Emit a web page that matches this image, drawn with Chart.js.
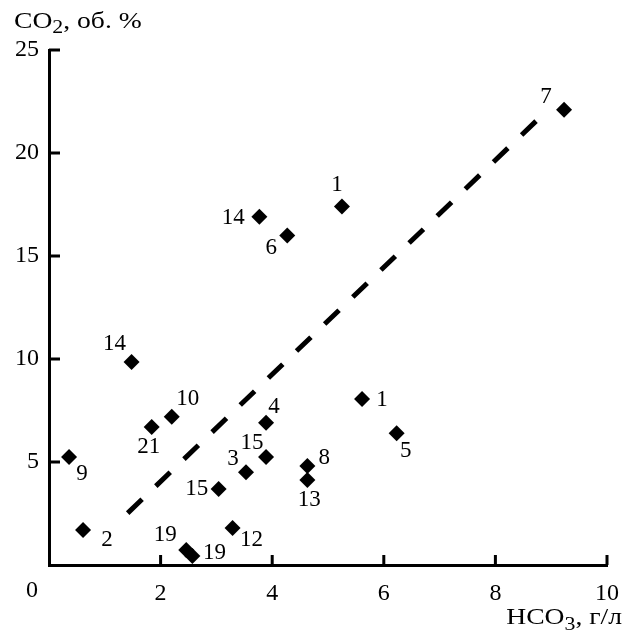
<!DOCTYPE html>
<html>
<head>
<meta charset="utf-8">
<script src="https://cdn.jsdelivr.net/npm/chart.js@4/dist/chart.umd.min.js"></script>
<style>
  html, body { margin: 0; padding: 0; background: #fff; }
  #wrap { width: 633px; height: 635px; }
</style>
</head>
<body>
<div id="wrap"><canvas id="chart" width="633" height="635"></canvas></div>
<script>
// Data
const hco3 = [9.23, 5.25, 3.77, 4.27, 1.48, 2.20, 1.84, 3.89, 0.36, 3.89, 3.53, 4.63, 4.63, 3.04, 0.61, 3.29, 2.46, 2.57, 5.61, 6.23];
const co2 = [22.1, 17.4, 16.9, 16.0, 9.85, 7.2, 6.7, 6.9, 5.24, 5.24, 4.5, 4.8, 4.13, 3.69, 1.7, 1.8, 0.73, 0.44, 8.06, 6.4];
const sampleNo = ["7", "1", "14", "6", "14", "10", "21", "4", "9", "15", "3", "8", "13", "15", "2", "12", "19", "19", "1", "5"];

// Trend line ends
const trendX = [1.41, 8.73];
const trendY = [2.52, 21.55];

// Axis ticks
const xTicks = [0, 2, 4, 6, 8, 10];
const yTicks = [0, 5, 10, 15, 20, 25];

// Label placement next to each marker (px)
const labelOffset = [
  [-18, -13], [-5, -22], [-26, 1], [-16, 13], [-17, -18], [16, -18], [-3, 20],
  [8, -16], [13, 17], [-14, -14], [-13, -13], [17, -8], [2, 20], [-22, 0],
  [24, 10], [19, 12], [-21, -15], [22, -3], [20, 1], [9, 18]
];

const FONT = '"Liberation Serif", "DejaVu Serif", serif';

// draws text with a slight horizontal stretch, returns its advance
function wideText(ctx, text, x, y, size, stretch) {
  ctx.font = size + "px " + FONT;
  ctx.save();
  ctx.translate(x, y);
  ctx.scale(stretch, 1);
  ctx.fillText(text, 0, 0);
  ctx.restore();
  return ctx.measureText(text).width * stretch;
}

// Draws inward tick marks, point labels, origin "0" and axis titles
const extras = {
  id: "extras",
  afterDraw(chart) {
    const ctx = chart.ctx;
    const xs = chart.scales.x;
    const ys = chart.scales.y;
    ctx.save();
    ctx.fillStyle = "#000";
    const base = Math.round(ys.bottom);
    const axisX = Math.round(xs.left);
    xTicks.forEach((v) => {
      if (v === 0) return;
      const px = xs.getPixelForValue(v);
      ctx.fillRect(px - 1.5, base - 10, 3, 10);
    });
    yTicks.forEach((v) => {
      if (v === 0) return;
      const py = ys.getPixelForValue(v);
      ctx.fillRect(axisX, py - 1.5, 11, 3);
    });

    ctx.font = "23px " + FONT;
    ctx.textAlign = "center";
    ctx.textBaseline = "middle";
    const meta = chart.getDatasetMeta(1);
    meta.data.forEach((pt, i) => {
      const off = labelOffset[i];
      ctx.fillText(sampleNo[i], pt.x + off[0], pt.y + off[1]);
    });

    // origin label
    ctx.font = "24px " + FONT;
    ctx.fillText("0", xs.getPixelForValue(0) - 17, ys.bottom + 26);

    // axis titles
    ctx.textAlign = "left";
    ctx.textBaseline = "alphabetic";
    const k = 1.15;
    let x = 14;
    x += wideText(ctx, "CO", x, 28, 24, k);
    x += wideText(ctx, "2", x, 33, 19, k);
    wideText(ctx, ", об. %", x, 28, 24, k);

    ctx.font = "24px " + FONT;
    const w1 = ctx.measureText("HCO").width * k;
    const w3 = ctx.measureText(", г/л").width * k;
    ctx.font = "19px " + FONT;
    const w2 = ctx.measureText("3").width * k;
    let left = 622 - (w1 + w2 + w3);
    left += wideText(ctx, "HCO", left, 624, 24, k);
    left += wideText(ctx, "3", left, 630, 19, k);
    wideText(ctx, ", г/л", left, 624, 24, k);
    ctx.restore();
  }
};

new Chart(document.getElementById("chart"), {
  type: "scatter",
  data: {
    datasets: [
      {
        label: "trend",
        data: trendX.map((x, i) => ({ x, y: trendY[i] })),
        showLine: true,
        borderColor: "#000",
        borderWidth: 5,
        borderDash: [20, 19],
        pointRadius: 0,
        fill: false
      },
      {
        label: "samples",
        data: hco3.map((x, i) => ({ x, y: co2[i] })),
        pointStyle: "rectRot",
        pointRadius: 8,
        pointHoverRadius: 8,
        backgroundColor: "#000",
        borderColor: "#000",
        borderWidth: 0
      }
    ]
  },
  options: {
    responsive: false,
    animation: false,
    layout: { padding: { top: 50, right: 24, left: 0, bottom: 0 } },
    plugins: { legend: { display: false }, tooltip: { enabled: false } },
    scales: {
      x: {
        type: "linear",
        min: 0,
        max: 10,
        afterBuildTicks: (s) => { s.ticks = xTicks.map((v) => ({ value: v })); },
        afterFit: (s) => { s.height = 70; },
        grid: { display: false, drawTicks: false },
        border: { display: true, color: "#000", width: 3 },
        ticks: {
          color: "#000",
          padding: 14,
          maxRotation: 0,
          font: { family: FONT, size: 24 },
          callback: (v) => (v === 0 ? "" : String(v))
        }
      },
      y: {
        type: "linear",
        min: 0,
        max: 25,
        afterBuildTicks: (s) => { s.ticks = yTicks.map((v) => ({ value: v })); },
        afterFit: (s) => { s.width = 49; },
        grid: { display: false, drawTicks: false },
        border: { display: true, color: "#000", width: 3 },
        ticks: {
          color: "#000",
          padding: 10,
          font: { family: FONT, size: 24 },
          callback: (v) => (v === 0 ? "" : String(v))
        }
      }
    }
  },
  plugins: [extras]
});
</script>
</body>
</html>
